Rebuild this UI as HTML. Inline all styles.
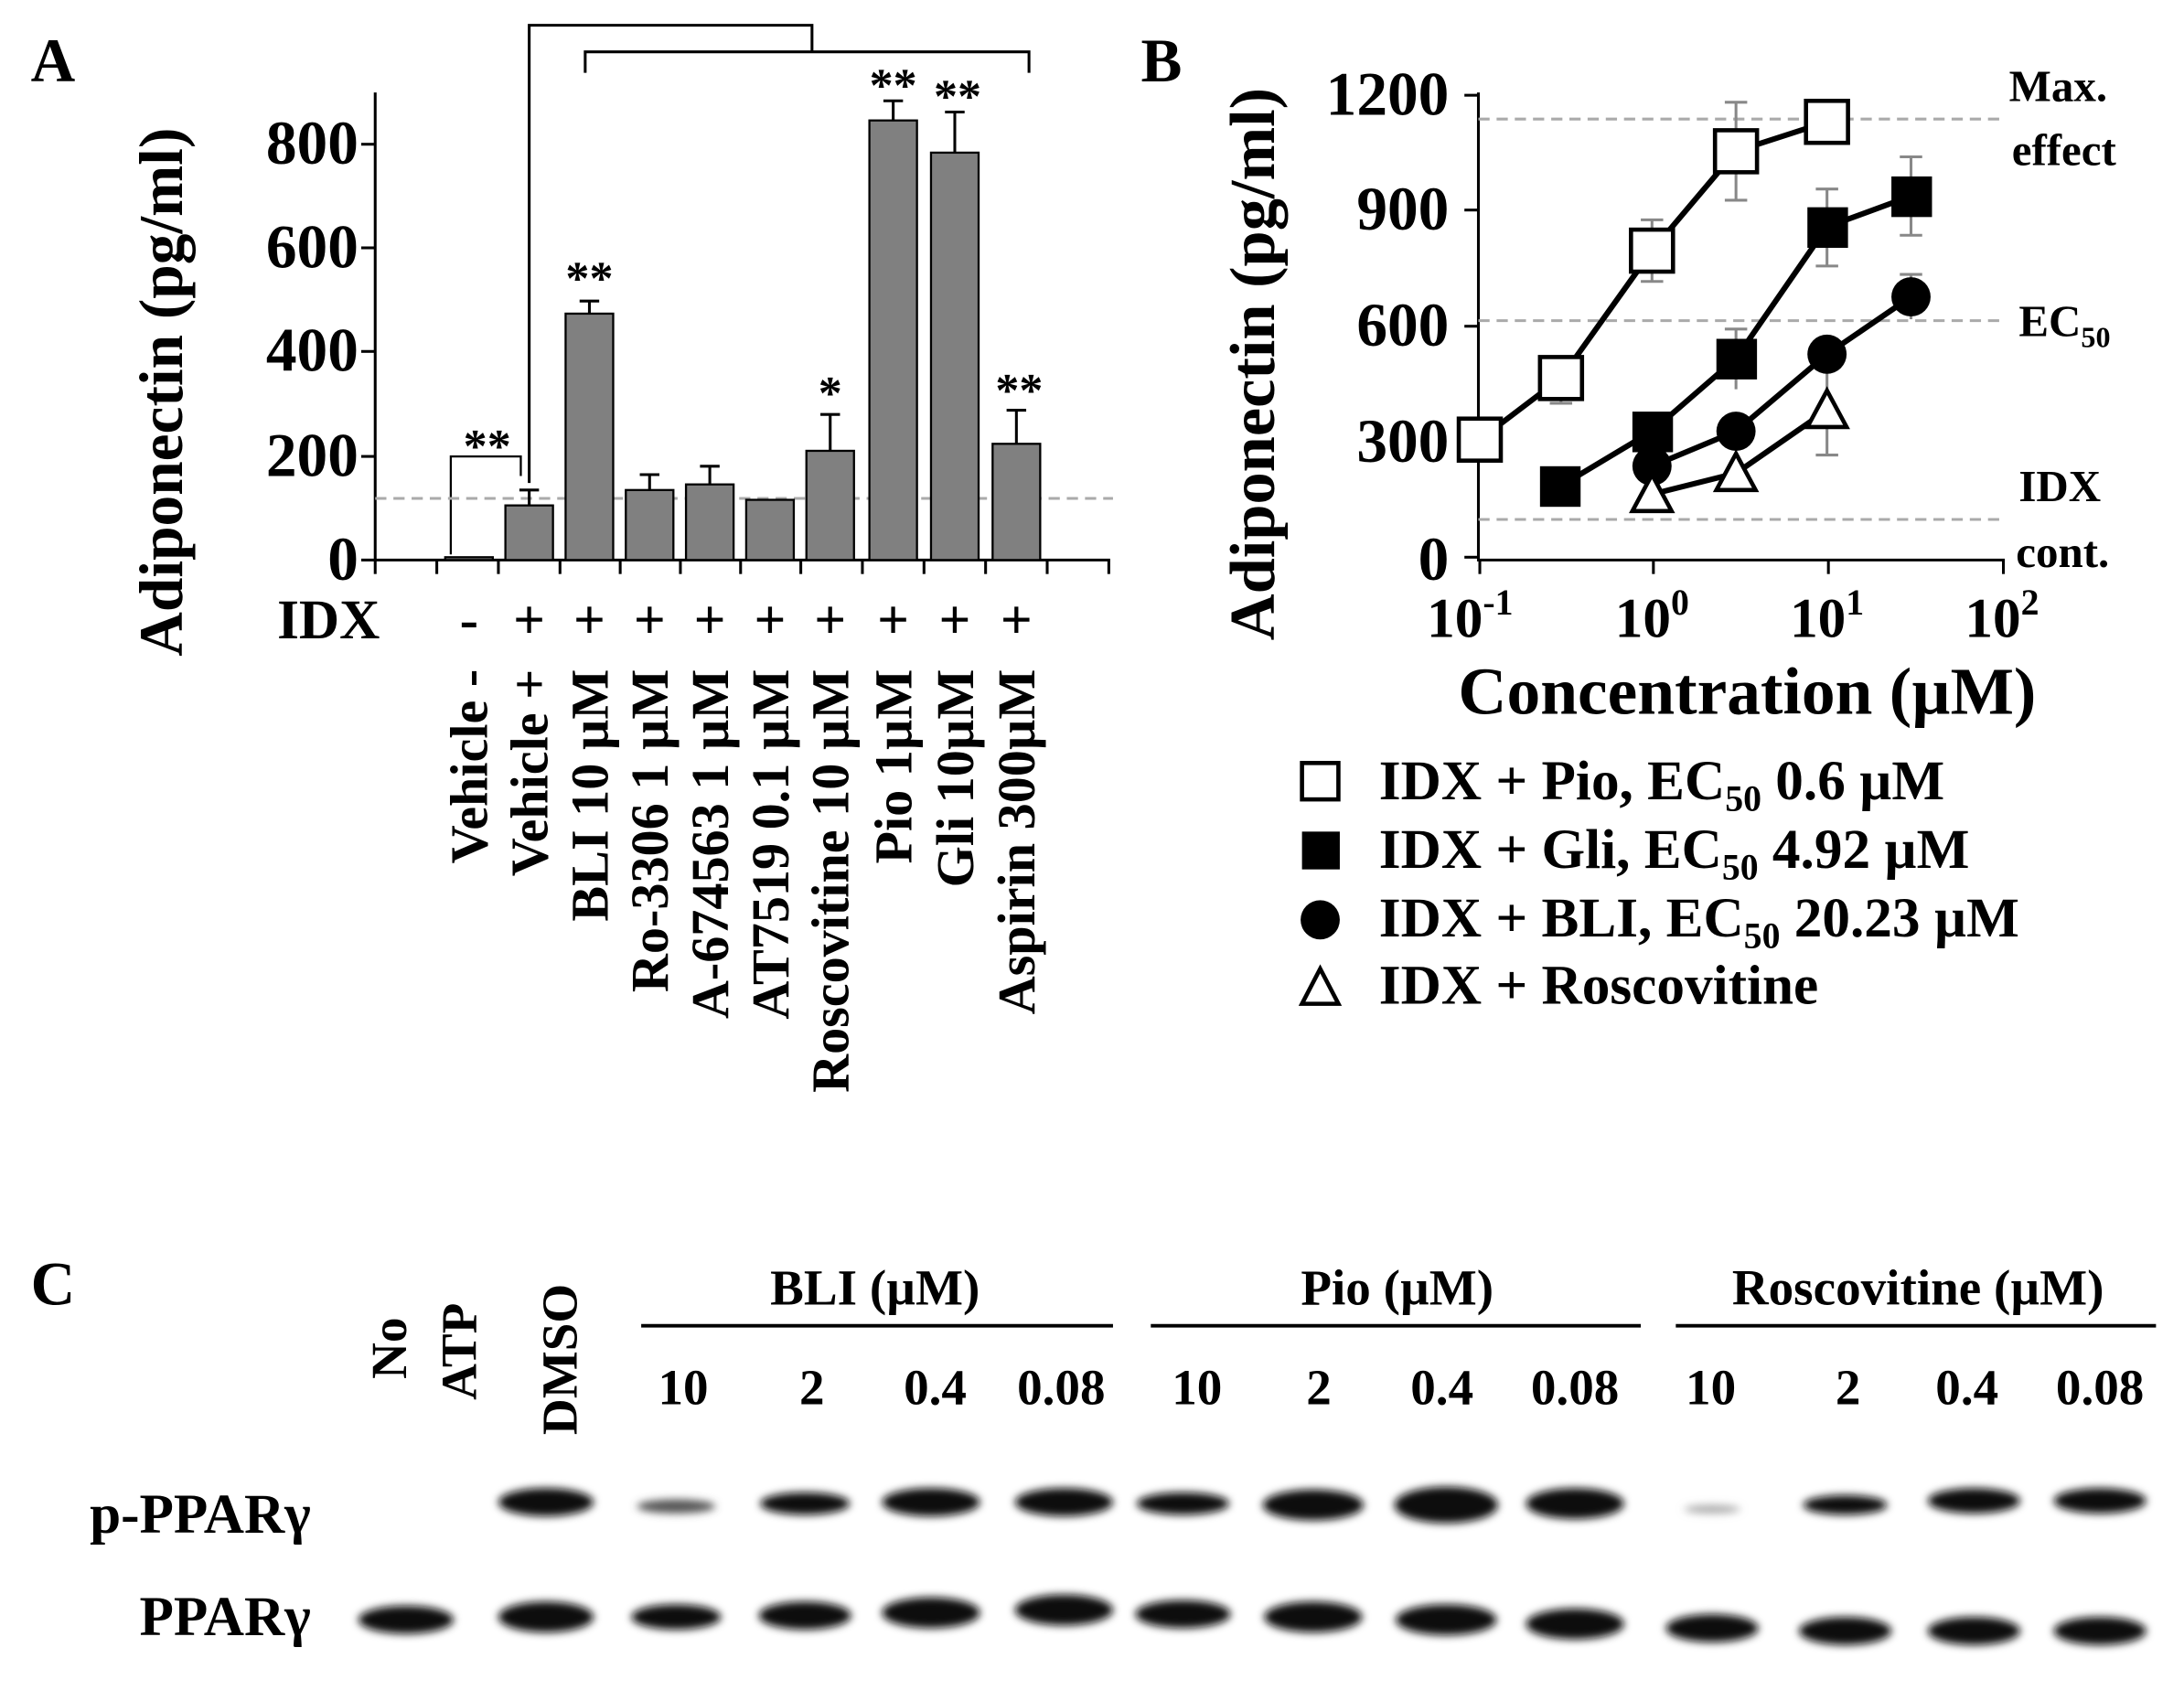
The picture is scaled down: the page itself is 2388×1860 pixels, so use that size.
<!DOCTYPE html>
<html><head><meta charset="utf-8"><style>html,body{margin:0;padding:0;background:#fff}svg{display:block}</style></head>
<body>
<svg width="2388" height="1860" viewBox="0 0 1560 1215" xmlns="http://www.w3.org/2000/svg" font-family="Liberation Serif, serif" font-weight="bold">
<defs><filter id="bl" x="-20%" y="-50%" width="140%" height="200%"><feGaussianBlur stdDeviation="3"/></filter></defs>
<!-- Panel A -->
<text x="22" y="58" font-size="44">A</text>
<g stroke="#000" stroke-width="2" fill="none">
<line x1="268" y1="66" x2="268" y2="401"/>
<line x1="268" y1="400" x2="793" y2="400"/>
<line x1="258" y1="400" x2="268" y2="400"/><line x1="258" y1="326" x2="268" y2="326"/><line x1="258" y1="251" x2="268" y2="251"/><line x1="258" y1="177" x2="268" y2="177"/><line x1="258" y1="103" x2="268" y2="103"/>
<line x1="268" y1="400" x2="268" y2="410"/><line x1="312" y1="400" x2="312" y2="410"/><line x1="356" y1="400" x2="356" y2="410"/><line x1="400" y1="400" x2="400" y2="410"/><line x1="443" y1="400" x2="443" y2="410"/><line x1="486" y1="400" x2="486" y2="410"/><line x1="529" y1="400" x2="529" y2="410"/><line x1="572" y1="400" x2="572" y2="410"/><line x1="616" y1="400" x2="616" y2="410"/><line x1="660" y1="400" x2="660" y2="410"/><line x1="704" y1="400" x2="704" y2="410"/><line x1="748" y1="400" x2="748" y2="410"/><line x1="792" y1="400" x2="792" y2="410"/>
<polyline points="378,345 378,18 580,18 580,37"/>
<polyline points="418,52 418,37 735,37 735,52"/>
<polyline points="322,396 322,326 372,326 372,340" stroke-width="1.5"/>
</g>
<line x1="268" y1="356" x2="795" y2="356" stroke="#aaa" stroke-width="2" stroke-dasharray="8,5"/>
<g font-size="44" text-anchor="end"><text x="256" y="414">0</text><text x="256" y="340">200</text><text x="256" y="265">400</text><text x="256" y="191">600</text><text x="256" y="117">800</text></g>
<text transform="translate(130,280) rotate(-90)" font-size="44" text-anchor="middle">Adiponectin (pg/ml)</text>
<g fill="#808080" stroke="#000" stroke-width="1.5">
<rect x="318" y="398" width="34" height="2"/>
<rect x="361" y="361" width="34" height="39"/>
<rect x="404" y="224" width="34" height="176"/>
<rect x="447" y="350" width="34" height="50"/>
<rect x="490" y="346" width="34" height="54"/>
<rect x="533" y="357" width="34" height="43"/>
<rect x="576" y="322" width="34" height="78"/>
<rect x="621" y="86" width="34" height="314"/>
<rect x="665" y="109" width="34" height="291"/>
<rect x="709" y="317" width="34" height="83"/>
</g>
<g stroke="#000" stroke-width="2">
<line x1="378" y1="361" x2="378" y2="350"/><line x1="371" y1="350" x2="385" y2="350"/>
<line x1="421" y1="224" x2="421" y2="215"/><line x1="414" y1="215" x2="428" y2="215"/>
<line x1="464" y1="350" x2="464" y2="339"/><line x1="457" y1="339" x2="471" y2="339"/>
<line x1="507" y1="346" x2="507" y2="333"/><line x1="500" y1="333" x2="514" y2="333"/>
<line x1="593" y1="322" x2="593" y2="296"/><line x1="586" y1="296" x2="600" y2="296"/>
<line x1="638" y1="86" x2="638" y2="72"/><line x1="631" y1="72" x2="645" y2="72"/>
<line x1="682" y1="109" x2="682" y2="80"/><line x1="675" y1="80" x2="689" y2="80"/>
<line x1="726" y1="317" x2="726" y2="293"/><line x1="719" y1="293" x2="733" y2="293"/>
</g>
<g font-size="34" text-anchor="middle">
<text x="348" y="330">**</text><text x="421" y="210">**</text><text x="593" y="292">*</text><text x="638" y="72">**</text><text x="684" y="80">**</text><text x="728" y="290">**</text>
</g>
<text x="198" y="456" font-size="40">IDX</text>
<g font-size="40" text-anchor="middle"><text x="335" y="456">-</text><text x="378" y="456">+</text><text x="421" y="456">+</text><text x="464" y="456">+</text><text x="507" y="456">+</text><text x="550" y="456">+</text><text x="593" y="456">+</text><text x="638" y="456">+</text><text x="682" y="456">+</text><text x="726" y="456">+</text></g>
<g font-size="38" text-anchor="end">
<text transform="translate(348,478) rotate(-90)">Vehicle -</text>
<text transform="translate(391,478) rotate(-90)">Vehicle +</text>
<text transform="translate(434,478) rotate(-90)">BLI 10 µM</text>
<text transform="translate(477,478) rotate(-90)">Ro-3306 1 µM</text>
<text transform="translate(520,478) rotate(-90)">A-674563 1 µM</text>
<text transform="translate(563,478) rotate(-90)">AT7519 0.1 µM</text>
<text transform="translate(606,478) rotate(-90)">Roscovitine 10 µM</text>
<text transform="translate(651,478) rotate(-90)">Pio  1µM</text>
<text transform="translate(695,478) rotate(-90)">Gli 10µM</text>
<text transform="translate(739,478) rotate(-90)">Aspirin 300µM</text>
</g>
<!-- Panel B -->
<text x="815" y="58" font-size="44">B</text>
<g stroke="#000" stroke-width="2" fill="none">
<line x1="1056" y1="66" x2="1056" y2="401"/><line x1="1056" y1="400" x2="1432" y2="400"/>
<line x1="1046" y1="398" x2="1056" y2="398"/><line x1="1046" y1="315" x2="1056" y2="315"/><line x1="1046" y1="233" x2="1056" y2="233"/><line x1="1046" y1="150" x2="1056" y2="150"/><line x1="1046" y1="68" x2="1056" y2="68"/>
<line x1="1057" y1="400" x2="1057" y2="410"/><line x1="1181" y1="400" x2="1181" y2="410"/><line x1="1306" y1="400" x2="1306" y2="410"/><line x1="1431" y1="400" x2="1431" y2="410"/>
</g>
<g stroke="#aaa" stroke-width="2" stroke-dasharray="8,5"><line x1="1056" y1="85" x2="1432" y2="85"/><line x1="1056" y1="229" x2="1432" y2="229"/><line x1="1056" y1="371" x2="1432" y2="371"/></g>
<g font-size="44" text-anchor="end"><text x="1035" y="414">0</text><text x="1035" y="330">300</text><text x="1035" y="247">600</text><text x="1035" y="164">900</text><text x="1035" y="82">1200</text></g>
<text transform="translate(910,260) rotate(-90)" font-size="46" text-anchor="middle">Adiponectin (pg/ml)</text>
<g font-size="32"><text x="1435" y="72">Max.</text><text x="1437" y="118">effect</text><text x="1442" y="240">EC<tspan font-size="21" dy="8">50</tspan></text><text x="1442" y="358">IDX</text><text x="1440" y="405">cont.</text></g>
<g font-size="40" text-anchor="middle"><text x="1050" y="455">10<tspan font-size="26" dy="-16">-1</tspan></text><text x="1180" y="455">10<tspan font-size="26" dy="-16">0</tspan></text><text x="1305" y="455">10<tspan font-size="26" dy="-16">1</tspan></text><text x="1430" y="455">10<tspan font-size="26" dy="-16">2</tspan></text></g>
<text x="1248" y="510" font-size="48" text-anchor="middle">Concentration (µM)</text>
<g stroke="#888" stroke-width="2">
<line x1="1240" y1="73" x2="1240" y2="143"/><line x1="1232" y1="73" x2="1248" y2="73"/><line x1="1232" y1="143" x2="1248" y2="143"/>
<line x1="1180" y1="157" x2="1180" y2="201"/><line x1="1172" y1="157" x2="1188" y2="157"/><line x1="1172" y1="201" x2="1188" y2="201"/>
<line x1="1115" y1="255" x2="1115" y2="288"/><line x1="1107" y1="255" x2="1123" y2="255"/><line x1="1107" y1="288" x2="1123" y2="288"/>
<line x1="1305" y1="135" x2="1305" y2="190"/><line x1="1297" y1="135" x2="1313" y2="135"/><line x1="1297" y1="190" x2="1313" y2="190"/>
<line x1="1365" y1="112" x2="1365" y2="168"/><line x1="1357" y1="112" x2="1373" y2="112"/><line x1="1357" y1="168" x2="1373" y2="168"/>
<line x1="1240" y1="235" x2="1240" y2="278"/><line x1="1232" y1="235" x2="1248" y2="235"/>
<line x1="1365" y1="196" x2="1365" y2="228"/><line x1="1357" y1="196" x2="1373" y2="196"/>
<line x1="1305" y1="265" x2="1305" y2="325"/><line x1="1297" y1="325" x2="1313" y2="325"/>
</g>
<g stroke="#000" stroke-width="4" fill="none">
<polyline points="1057,314 1115,270 1180,179 1240,108 1305,87"/>
<polyline points="1115,347 1180,308 1240,256 1305,162 1365,140"/>
<polyline points="1180,333 1240,308 1305,253 1365,212"/>
<polyline points="1180,353 1240,338 1305,293"/>
</g>
<g fill="#fff" stroke="#000" stroke-width="3">
<rect x="1042" y="299" width="30" height="30"/><rect x="1100" y="255" width="30" height="30"/><rect x="1165" y="164" width="30" height="30"/><rect x="1225" y="93" width="30" height="30"/><rect x="1290" y="72" width="30" height="30"/>
</g>
<g fill="#000"><rect x="1100" y="333" width="29" height="29"/><rect x="1166" y="294" width="29" height="29"/><rect x="1226" y="242" width="29" height="29"/><rect x="1291" y="148" width="29" height="29"/><rect x="1351" y="126" width="29" height="29"/>
<circle cx="1180" cy="333" r="14"/><circle cx="1240" cy="308" r="14"/><circle cx="1305" cy="253" r="14"/><circle cx="1365" cy="212" r="14"/></g>
<g fill="#fff" stroke="#000" stroke-width="3"><polygon points="1180,339 1166,365 1194,365"/><polygon points="1240,324 1226,350 1254,350"/><polygon points="1305,279 1291,305 1319,305"/></g>
<g><rect x="930" y="545" width="26" height="26" fill="#fff" stroke="#000" stroke-width="3"/><rect x="930" y="594" width="27" height="27"/><circle cx="943" cy="657" r="14"/><polygon points="943,692 930,717 956,717" fill="#fff" stroke="#000" stroke-width="3"/></g>
<g font-size="40"><text x="985" y="571">IDX + Pio, EC<tspan font-size="26" dy="8">50</tspan><tspan dy="-8"> 0.6 µM</tspan></text>
<text x="985" y="620">IDX + Gli, EC<tspan font-size="26" dy="8">50</tspan><tspan dy="-8"> 4.92 µM</tspan></text>
<text x="985" y="669">IDX + BLI, EC<tspan font-size="26" dy="8">50</tspan><tspan dy="-8"> 20.23 µM</tspan></text>
<text x="985" y="717">IDX + Roscovitine</text></g>
<!-- Panel C -->
<text x="22" y="932" font-size="44">C</text>
<g font-size="36"><text transform="translate(290,985) rotate(-90)">No</text><text transform="translate(340,1000) rotate(-90)">ATP</text><text transform="translate(412,1025) rotate(-90)">DMSO</text></g>
<g font-size="36" text-anchor="middle"><text x="625" y="932">BLI (µM)</text><text x="998" y="932">Pio (µM)</text><text x="1370" y="932">Roscovitine (µM)</text></g>
<g stroke="#000" stroke-width="2.5"><line x1="458" y1="947" x2="795" y2="947"/><line x1="822" y1="947" x2="1172" y2="947"/><line x1="1197" y1="947" x2="1540" y2="947"/></g>
<g font-size="36" text-anchor="middle"><text x="488" y="1003">10</text><text x="580" y="1003">2</text><text x="668" y="1003">0.4</text><text x="758" y="1003">0.08</text><text x="855" y="1003">10</text><text x="942" y="1003">2</text><text x="1030" y="1003">0.4</text><text x="1125" y="1003">0.08</text><text x="1222" y="1003">10</text><text x="1320" y="1003">2</text><text x="1405" y="1003">0.4</text><text x="1500" y="1003">0.08</text></g>
<g font-size="40" text-anchor="end"><text x="222" y="1095">p-PPARγ</text><text x="222" y="1168">PPARγ</text></g>
<g filter="url(#bl)" fill="#111">
<ellipse cx="390" cy="1073" rx="34" ry="10"/><ellipse cx="483" cy="1076" rx="28" ry="5" fill="#555"/><ellipse cx="575" cy="1074" rx="32" ry="8"/><ellipse cx="665" cy="1073" rx="35" ry="10"/><ellipse cx="760" cy="1073" rx="35" ry="10"/>
<ellipse cx="845" cy="1074" rx="33" ry="8"/><ellipse cx="938" cy="1075" rx="36" ry="11"/><ellipse cx="1033" cy="1075" rx="37" ry="13"/><ellipse cx="1125" cy="1074" rx="35" ry="11"/>
<ellipse cx="1223" cy="1078" rx="20" ry="3" fill="#aaa"/><ellipse cx="1318" cy="1075" rx="30" ry="7"/><ellipse cx="1410" cy="1072" rx="33" ry="9"/><ellipse cx="1500" cy="1072" rx="33" ry="9"/>
<ellipse cx="290" cy="1157" rx="34" ry="10"/><ellipse cx="390" cy="1155" rx="34" ry="11"/><ellipse cx="483" cy="1155" rx="32" ry="9"/><ellipse cx="575" cy="1154" rx="33" ry="10"/><ellipse cx="665" cy="1152" rx="35" ry="11"/><ellipse cx="760" cy="1150" rx="35" ry="11"/>
<ellipse cx="845" cy="1153" rx="34" ry="10"/><ellipse cx="938" cy="1155" rx="35" ry="11"/><ellipse cx="1033" cy="1157" rx="36" ry="11"/><ellipse cx="1125" cy="1160" rx="35" ry="11"/>
<ellipse cx="1223" cy="1163" rx="33" ry="10"/><ellipse cx="1318" cy="1165" rx="33" ry="10"/><ellipse cx="1410" cy="1165" rx="33" ry="10"/><ellipse cx="1500" cy="1165" rx="33" ry="10"/>
</g>
</svg>
</body></html>
